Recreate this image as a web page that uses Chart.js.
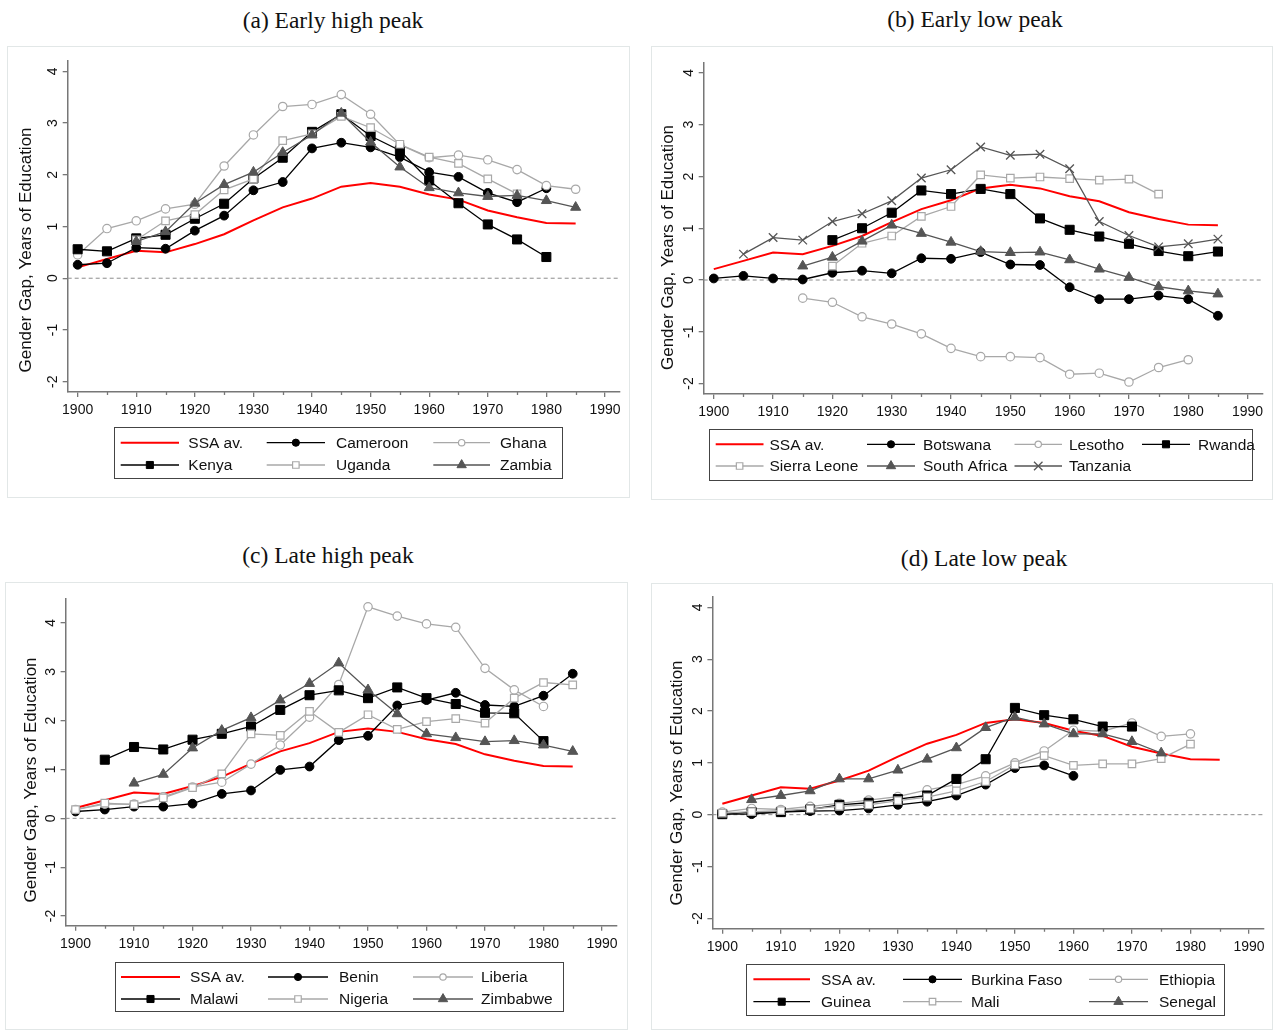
<!DOCTYPE html>
<html>
<head>
<meta charset="utf-8">
<script src="https://cdn.jsdelivr.net/npm/chart.js@4.4.1/dist/chart.umd.min.js"></script>
<style>
  body { margin: 0; background: #fff; width: 1275px; height: 1032px; position: relative; overflow: hidden; }
  .ttl { position: absolute; font-family: "Liberation Serif", "Times New Roman", serif; font-size: 23.5px; line-height: 28px;
         color: #111; white-space: nowrap; transform: translateX(-50%); }
  .frame { position: absolute; border: 1px solid #e2e7e7; box-sizing: border-box; }
  canvas { position: absolute; }
</style>
</head>
<body>
<div class="ttl" style="left:333px;top:6px">(a) Early high peak</div>
<div class="ttl" style="left:975px;top:5px">(b) Early low peak</div>
<div class="ttl" style="left:328px;top:541px">(c) Late high peak</div>
<div class="ttl" style="left:984px;top:544px">(d) Late low peak</div>

<div class="frame" style="left:7px;top:46px;width:623px;height:452px"></div>
<div class="frame" style="left:651px;top:46px;width:622px;height:454px"></div>
<div class="frame" style="left:5px;top:582px;width:623px;height:448px"></div>
<div class="frame" style="left:651px;top:583px;width:622px;height:447px"></div>

<canvas id="ca" width="623" height="452" style="left:7px;top:46px"></canvas>
<canvas id="cb" width="622" height="454" style="left:651px;top:46px"></canvas>
<canvas id="cc" width="623" height="448" style="left:5px;top:582px"></canvas>
<canvas id="cd" width="622" height="447" style="left:651px;top:583px"></canvas>

<script>
// cohorts (birth year)
const years = [1900,1905,1910,1915,1920,1925,1930,1935,1940,1945,1950,1955,1960,1965,1970,1975,1980,1985];
const xTicks = [1900,1910,1920,1930,1940,1950,1960,1970,1980,1990];
const xMinorTicks = [1905,1915,1925,1935,1945,1955,1965,1975,1985];
const yTicks = [-2,-1,0,1,2,3,4];

// Sub-Saharan Africa average, same in every panel
const ssaAv = [0.21,0.37,0.53,0.50,0.66,0.85,1.12,1.37,1.54,1.77,1.84,1.77,1.62,1.52,1.31,1.18,1.07,1.06];

// (a) early high peak
const namesA = ['SSA av.','Cameroon','Ghana','Kenya','Uganda','Zambia'];
const cameroon = [0.26,0.29,0.59,0.57,0.92,1.21,1.70,1.86,2.51,2.62,2.53,2.34,2.05,1.96,1.65,1.47,1.74,null];
const ghana    = [0.45,0.96,1.11,1.34,1.43,2.17,2.77,3.32,3.36,3.55,3.17,2.58,2.33,2.38,2.29,2.10,1.79,1.72];
const kenya    = [0.56,0.52,0.77,0.84,1.15,1.44,1.93,2.33,2.83,3.17,2.75,2.47,1.89,1.45,1.04,0.75,0.41,null];
const uganda   = [null,null,0.74,1.11,1.23,1.71,1.92,2.66,2.79,3.13,2.91,2.59,2.34,2.22,1.92,1.63,null,null];
const zambia   = [null,null,0.71,0.90,1.45,1.81,2.05,2.43,2.77,3.19,2.63,2.15,1.75,1.65,1.58,1.60,1.50,1.37];

// (b) early low peak
const namesB = ['SSA av.','Botswana','Lesotho','Rwanda','Sierra Leone','South Africa','Tanzania'];
const botswana    = [0.03,0.08,0.03,0.01,0.14,0.18,0.13,0.42,0.41,0.54,0.30,0.29,-0.14,-0.37,-0.37,-0.30,-0.37,-0.69];
const lesotho     = [null,null,null,-0.35,-0.43,-0.71,-0.85,-1.04,-1.32,-1.48,-1.48,-1.50,-1.82,-1.80,-1.97,-1.69,-1.54,null];
const rwanda      = [null,null,null,null,0.77,1.00,1.30,1.73,1.66,1.76,1.66,1.19,0.97,0.84,0.70,0.56,0.46,0.55];
const sierraLeone = [null,null,null,null,0.27,0.71,0.85,1.23,1.42,2.03,1.97,1.99,1.96,1.93,1.95,1.66,null,null];
const southAfrica = [null,null,null,0.27,0.44,0.75,1.06,0.90,0.73,0.55,0.53,0.54,0.39,0.21,0.05,-0.13,-0.21,-0.27];
const tanzania    = [null,0.50,0.82,0.77,1.13,1.28,1.53,1.97,2.13,2.57,2.41,2.43,2.15,1.13,0.86,0.64,0.70,0.79];

// (c) late high peak
const namesC = ['SSA av.','Benin','Liberia','Malawi','Nigeria','Zimbabwe'];
const benin    = [0.14,0.18,0.24,0.24,0.30,0.50,0.57,0.99,1.06,1.60,1.69,2.31,2.42,2.57,2.32,2.29,2.51,2.96];
const liberia  = [0.18,0.29,0.29,0.44,0.64,0.74,1.11,1.50,2.07,2.74,4.33,4.14,3.98,3.91,3.07,2.63,2.29,null];
const malawi   = [null,1.20,1.46,1.41,1.61,1.73,1.88,2.22,2.52,2.62,2.46,2.68,2.46,2.34,2.16,2.15,1.58,null];
const nigeria  = [0.18,0.31,0.28,0.42,0.63,0.91,1.73,1.70,2.19,1.76,2.12,1.82,1.98,2.04,1.95,2.46,2.78,2.73];
const zimbabwe = [null,null,0.72,0.90,1.44,1.80,2.06,2.42,2.76,3.18,2.63,2.14,1.73,1.65,1.57,1.59,1.50,1.37];

// (d) late low peak
const namesD = ['SSA av.','Burkina Faso','Ethiopia','Guinea','Mali','Senegal'];
const burkinaFaso = [0.01,0.01,0.05,0.07,0.08,0.12,0.19,0.25,0.37,0.58,0.90,0.95,0.75,null,null,null,null,null];
const ethiopia    = [0.05,0.12,0.10,0.16,0.22,0.28,0.35,0.48,0.58,0.75,1.00,1.23,1.63,1.61,1.77,1.51,1.56,null];
const guinea      = [0.01,0.05,0.05,0.10,0.19,0.23,0.30,0.37,0.69,1.07,2.06,1.92,1.84,1.70,1.70,null,null,null];
const mali        = [0.03,0.06,0.08,0.11,0.16,0.19,0.27,0.34,0.46,0.64,0.96,1.14,0.95,0.98,0.98,1.08,1.36,null];
const senegal     = [null,0.29,0.37,0.46,0.69,0.69,0.86,1.07,1.29,1.68,1.88,1.75,1.56,1.56,1.41,1.19,null,null];

const FONT = '"Liberation Sans", Arial, sans-serif';
const LIGHT = '#a8a8a8';
const DARK = '#555555';
const AXIS = '#777';

// marker / line look of each series slot (Stata style)
const looks = [
  { borderColor: '#ff0000', borderWidth: 2, pointRadius: 0 },
  { borderColor: '#000', borderWidth: 1.3, pointStyle: 'circle', pointRadius: 4.4, pointBackgroundColor: '#000', pointBorderColor: '#000', pointBorderWidth: 1, legendRadius: 3.6 },
  { borderColor: LIGHT, borderWidth: 1.3, pointStyle: 'circle', pointRadius: 4.2, pointBackgroundColor: '#fff', pointBorderColor: LIGHT, pointBorderWidth: 1.2, legendRadius: 3.2 },
  { borderColor: '#000', borderWidth: 1.3, pointStyle: 'rect', pointRadius: 6.4, pointBackgroundColor: '#000', pointBorderColor: '#000', pointBorderWidth: 1, legendRadius: 5 },
  { borderColor: LIGHT, borderWidth: 1.3, pointStyle: 'rect', pointRadius: 5.3, pointBackgroundColor: '#fff', pointBorderColor: LIGHT, pointBorderWidth: 1.2, legendRadius: 4.6 },
  { borderColor: DARK, borderWidth: 1.3, pointStyle: 'triangle', pointRadius: 5.8, pointBackgroundColor: DARK, pointBorderColor: DARK, pointBorderWidth: 1, legendRadius: 5.4 },
  { borderColor: DARK, borderWidth: 1.3, pointStyle: 'crossRot', pointRadius: 6, pointBackgroundColor: DARK, pointBorderColor: DARK, pointBorderWidth: 1.3, legendRadius: 6 }
];

// zero line, minor x ticks, y title and boxed legend
const decor = {
  id: 'decor',
  beforeDatasetsDraw(chart) {
    const { ctx, chartArea, scales } = chart;
    const py = scales.y.getPixelForValue(0);
    ctx.save();
    ctx.strokeStyle = '#8c8c8c';
    ctx.lineWidth = 1;
    ctx.setLineDash([4, 3]);
    ctx.beginPath();
    ctx.moveTo(chartArea.left, py);
    ctx.lineTo(chartArea.right, py);
    ctx.stroke();
    ctx.restore();
  },
  afterDraw(chart, args, o) {
    const ctx = chart.ctx;
    const xs = chart.scales.x;

    ctx.save();
    ctx.strokeStyle = AXIS;
    ctx.lineWidth = 1.3;
    ctx.beginPath();
    xMinorTicks.forEach(v => {
      const px = Math.round(xs.getPixelForValue(v)) + 0.5;
      ctx.moveTo(px, xs.top);
      ctx.lineTo(px, xs.top + 3);
    });
    ctx.stroke();
    ctx.restore();

    ctx.save();
    ctx.fillStyle = '#111';
    ctx.font = '17px ' + FONT;
    ctx.textAlign = 'center';
    ctx.textBaseline = 'middle';
    ctx.translate(o.yTitle[0], o.yTitle[1]);
    ctx.rotate(-Math.PI / 2);
    ctx.fillText('Gender Gap, Years of Education', 0, 0);
    ctx.restore();

    const lg = o.legend;
    ctx.save();
    ctx.strokeStyle = '#444';
    ctx.lineWidth = 1;
    ctx.strokeRect(lg.box[0] + 0.5, lg.box[1] + 0.5, lg.box[2], lg.box[3]);
    const nCol = lg.texts.length;
    chart.data.datasets.forEach((ds, i) => {
      const col = i % nCol, row = Math.floor(i / nCol);
      const [x0, x1] = lg.samples[col];
      const y = lg.rows[row];
      ctx.strokeStyle = ds.borderColor;
      ctx.lineWidth = ds.borderWidth;
      ctx.beginPath();
      ctx.moveTo(x0, y);
      ctx.lineTo(x1, y);
      ctx.stroke();
      if (ds.pointRadius > 0) {
        ctx.fillStyle = ds.pointBackgroundColor;
        ctx.strokeStyle = ds.pointBorderColor;
        ctx.lineWidth = ds.pointBorderWidth;
        Chart.helpers.drawPoint(ctx, { pointStyle: ds.pointStyle, rotation: 0, radius: ds.legendRadius, borderWidth: ds.pointBorderWidth }, (x0 + x1) / 2, y);
      }
      ctx.fillStyle = '#111';
      ctx.font = '15.5px ' + FONT;
      ctx.textAlign = 'left';
      ctx.textBaseline = 'middle';
      ctx.fillText(ds.label, lg.texts[col], y + 1);
    });
    ctx.restore();
  }
};

const panels = [
  { id: 'ca', names: namesA, series: [ssaAv, cameroon, ghana, kenya, uganda, zambia],
    yMax: 4.2, yW: 60.7, pad: { left: 0, right: 10.4, top: 15, bottom: 72 }, yTitle: [19, 204],
    legend: { box: [107, 381, 448, 51], rows: [396.7, 419], samples: [[113.7, 172], [259.7, 318], [426.3, 483]], texts: [181.3, 329, 493] } },
  { id: 'cb', names: namesB, series: [ssaAv, botswana, lesotho, rwanda, sierraLeone, southAfrica, tanzania],
    yMax: 4.2, yW: 52.7, pad: { left: 0, right: 10.6, top: 16.6, bottom: 72.1 }, yTitle: [17.3, 201.5],
    legend: { box: [58, 383, 543, 51], rows: [398.3, 420], samples: [[64.7, 112.5], [216, 264], [363.5, 411], [491, 539]], texts: [118.5, 272, 418, 547] } },
  { id: 'cc', names: namesC, series: [ssaAv, benin, liberia, malawi, nigeria, zimbabwe],
    yMax: 4.5, yW: 60.6, pad: { left: 0, right: 11.4, top: 16.5, bottom: 70.2 }, yTitle: [26, 198],
    legend: { box: [110, 380, 448, 49], rows: [395, 417], samples: [[116, 175], [263, 323], [408, 468]], texts: [185, 334, 476] } },
  { id: 'cd', names: namesD, series: [ssaAv, burkinaFaso, ethiopia, guinea, mali, senegal],
    yMax: 4.2, yW: 61.4, pad: { left: 0, right: 9.4, top: 14, bottom: 67.3 }, yTitle: [26, 200],
    legend: { box: [95, 381, 478, 51], rows: [396.3, 418.7], samples: [[102.4, 159], [252, 311], [438, 497]], texts: [170, 320, 508] } }
];

const axisGrid = { display: true, drawOnChartArea: false, drawTicks: true, tickLength: 5, color: AXIS, lineWidth: 1.3 };
const axisBorder = { display: true, color: AXIS, width: 1.5 };

panels.forEach(p => {
  const n = p.series.length;
  const datasets = p.series.map((vals, i) => Object.assign({
    label: p.names[i],
    data: years.map((yr, k) => ({ x: yr, y: vals[k] })),
    fill: false,
    tension: 0,
    spanGaps: false,
    order: n - i
  }, looks[i]));

  new Chart(document.getElementById(p.id).getContext('2d'), {
    type: 'line',
    data: { datasets: datasets },
    plugins: [decor],
    options: {
      responsive: false,
      animation: false,
      events: [],
      layout: { padding: p.pad },
      plugins: {
        legend: { display: false },
        tooltip: { enabled: false },
        decor: { yTitle: p.yTitle, legend: p.legend }
      },
      scales: {
        x: {
          type: 'linear',
          min: 1898.3,
          max: 1992.5,
          afterBuildTicks: s => { s.ticks = xTicks.map(v => ({ value: v })); },
          afterFit: s => { s.height = 34; },
          grid: axisGrid,
          border: axisBorder,
          ticks: {
            autoSkip: false, minRotation: 0, maxRotation: 0, padding: 5, color: '#111',
            font: { family: FONT, size: 14 },
            callback: v => String(v)
          }
        },
        y: {
          type: 'linear',
          min: -2.2,
          max: p.yMax,
          afterBuildTicks: s => { s.ticks = yTicks.map(v => ({ value: v })); },
          afterFit: s => { s.width = p.yW; },
          grid: axisGrid,
          border: axisBorder,
          ticks: {
            minRotation: 90, maxRotation: 90, crossAlign: 'center', padding: 3.5, color: '#111',
            font: { family: FONT, size: 14 },
            callback: v => String(v)
          }
        }
      }
    }
  });
});
</script>
</body>
</html>
